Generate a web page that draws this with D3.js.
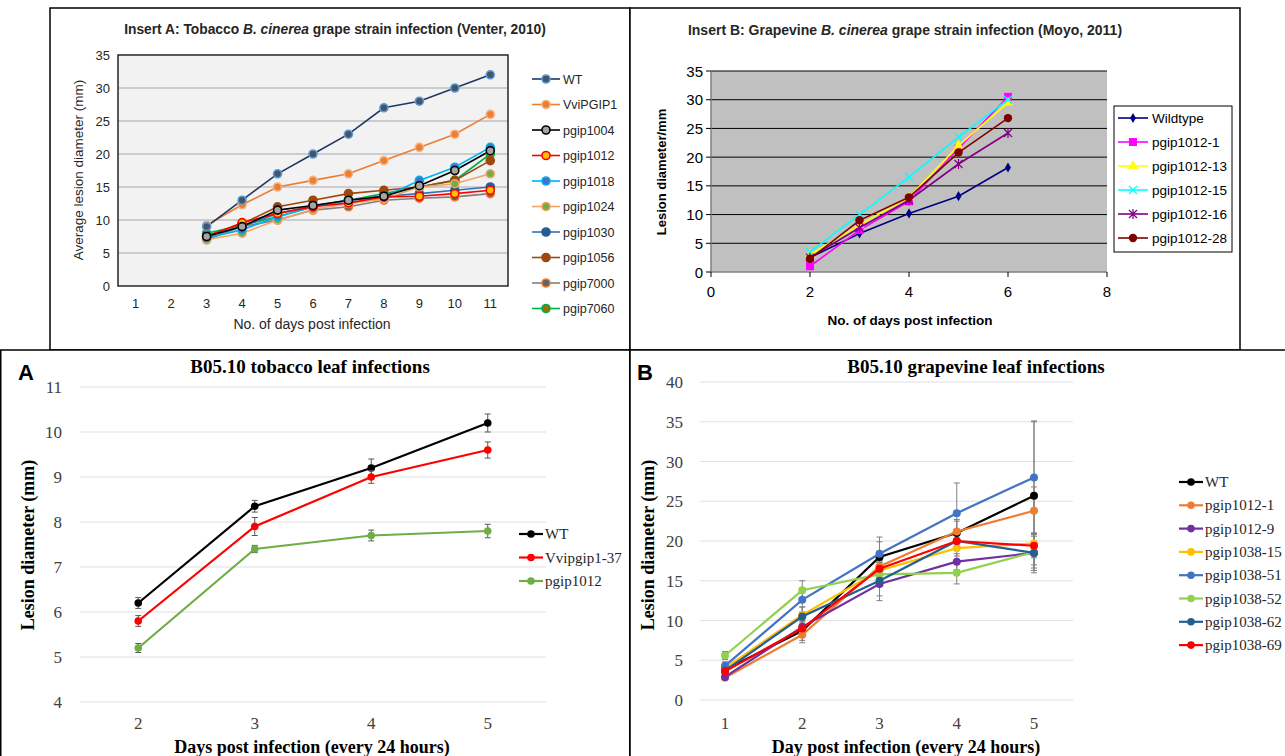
<!DOCTYPE html>
<html><head><meta charset="utf-8">
<script src="https://cdn.jsdelivr.net/npm/d3@7"></script>
<style>body{margin:0;background:#fff}svg{display:block}</style>
</head><body>
<svg id="c" width="1285" height="756"></svg>
<script>
// ---------- DATA ----------
// Insert A
const aDays = [1,2,3,4,5,6,7,8,9,10,11];
const aDataDays = [3,4,5,6,7,8,9,10,11];
const aSeriesNames = ["WT","VviPGIP1","pgip1004","pgip1012","pgip1018","pgip1024","pgip1030","pgip1056","pgip7000","pgip7060"];
const aWT       = [9, 13, 17, 20, 23, 27, 28, 30, 32];
const aVviPGIP1 = [9.2, 12.3, 15, 16, 17, 19, 21, 23, 26];
const a1004     = [7.5, 9, 11.5, 12.2, 13, 13.6, 15.2, 17.5, 20.5];
const a1012     = [7.5, 9.6, 11, 12, 12.6, 13.5, 13.6, 14, 14.5];
const a1018     = [7.3, 8.5, 10.5, 12, 13, 13.5, 16, 18, 21];
const a1024     = [7, 8, 10, 11.6, 12.5, 13.2, 15, 15.5, 17];
const a1030     = [7.5, 9, 11, 12.1, 13, 13.6, 14, 14.5, 15];
const a1056     = [7.6, 9.4, 12, 13, 14, 14.5, 15, 16, 19];
const a7000     = [7, 9, 10, 11.5, 12, 13, 13.3, 13.5, 14];
const a7060     = [8, 9.2, 10.5, 12, 13, 14, 15, 16, 20];
const aYTicks = [0,5,10,15,20,25,30,35];

// Insert B
const bDays = [2,3,4,5,6];
const bSeriesNames = ["Wildtype","pgip1012-1","pgip1012-13","pgip1012-15","pgip1012-16","pgip1012-28"];
const bWild = [2.5, 6.7, 10.2, 13.2, 18.2];
const b1    = [1.0, 7.3, 12.3, 21.5, 30.5];
const b13   = [3.0, 8.2, 13.0, 22.0, 29.5];
const b15   = [3.5, 10.0, 16.5, 23.5, 30.0];
const b16   = [2.5, 7.7, 12.5, 18.8, 24.2];
const b28   = [2.3, 9.0, 13.0, 20.8, 26.8];
const bXTicks = [0,2,4,6,8];
const bYTicks = [0,5,10,15,20,25,30,35];

// Panel A
const pADays = [2,3,4,5];
const pANames = ["WT","Vvipgip1-37","pgip1012"];
const pAWT = [6.2, 8.35, 9.2, 10.2];
const pAWTerr = [0.12, 0.13, 0.2, 0.2];
const pAVv = [5.8, 7.9, 9.0, 9.6];
const pAVverr = [0.12, 0.2, 0.14, 0.18];
const pA1012 = [5.2, 7.4, 7.7, 7.8];
const pA1012err = [0.1, 0.08, 0.12, 0.15];
const pAYTicks = [4,5,6,7,8,9,10,11];

// Panel B
const pBDays = [1,2,3,4,5];
const pBNames = ["WT","pgip1012-1","pgip1012-9","pgip1038-15","pgip1038-51","pgip1038-52","pgip1038-62","pgip1038-69"];
const pBWT = [3.8, 8.7, 18.0, 21.0, 25.7];
const pBWTerr = [0.5, 1.2, 2.5, 1.5, 9.4];
const pB1 = [2.8, 8.2, 16.8, 21.2, 23.8];
const pB1err = [0.3, 1.0, 1.2, 1.5, 3.0];
const pB9 = [2.9, 9.2, 14.6, 17.4, 18.5];
const pB9err = [0.3, 1.0, 1.5, 1.0, 1.5];
const pB15 = [4.0, 10.7, 16.3, 19.1, 19.7];
const pB15err = [0.4, 1.0, 1.0, 1.0, 1.2];
const pB51 = [4.3, 12.6, 18.4, 23.5, 28.0];
const pB51err = [0.5, 1.5, 1.5, 3.8, 7.0];
const pB52 = [5.6, 13.8, 15.8, 16.0, 18.6];
const pB52err = [0.5, 1.2, 1.5, 1.4, 2.0];
const pB62 = [3.7, 10.5, 15.0, 20.0, 18.5];
const pB62err = [0.4, 1.2, 2.5, 1.0, 2.5];
const pB69 = [3.6, 9.0, 16.5, 20.0, 19.4];
const pB69err = [0.4, 1.0, 1.0, 1.0, 1.5];
const pBYTicks = [0,5,10,15,20,25,30,35,40];

// ---------- DRAW ----------
const svg = d3.select("#c");
const SANS = "'Liberation Sans', Arial, sans-serif";
const SERIF = "'Liberation Serif', 'Times New Roman', serif";

// ===== Insert A =====
(function(){
  const g = svg.append("g");
  const series = [
    {name:aSeriesNames[0], v:aWT, line:"#1f3864", fill:"#44546a", stroke:"#5b9bd5"},
    {name:aSeriesNames[1], v:aVviPGIP1, line:"#ed7d31", fill:"#ed7d31", stroke:"#f4b183"},
    {name:aSeriesNames[2], v:a1004, line:"#000000", fill:"#a5a5a5", stroke:"#000000"},
    {name:aSeriesNames[3], v:a1012, line:"#ff0000", fill:"#ffc000", stroke:"#ff0000"},
    {name:aSeriesNames[4], v:a1018, line:"#00b0f0", fill:"#4472c4", stroke:"#00b0f0"},
    {name:aSeriesNames[5], v:a1024, line:"#f4a460", fill:"#70ad47", stroke:"#f4a460"},
    {name:aSeriesNames[6], v:a1030, line:"#2e75b6", fill:"#255e91", stroke:"#255e91"},
    {name:aSeriesNames[7], v:a1056, line:"#9e480e", fill:"#9e480e", stroke:"#9e480e"},
    {name:aSeriesNames[8], v:a7000, line:"#7f7f7f", fill:"#636363", stroke:"#ed7d31"},
    {name:aSeriesNames[9], v:a7060, line:"#00b050", fill:"#997300", stroke:"#00b050"}
  ];
  const x = d3.scaleBand().domain(aDays).range([118,508]);
  const y = d3.scaleLinear().domain([0,35]).range([286,55]);
  g.append("rect").attr("x",50).attr("y",8).attr("width",580).attr("height",342).attr("fill","#fff").attr("stroke","#000").attr("stroke-width",1.5);
  g.append("rect").attr("x",118).attr("y",55).attr("width",390).attr("height",231).attr("fill","#f2f2f2");
  g.selectAll(".gr").data(aYTicks.filter(d=>d>0&&d<35)).join("line")
    .attr("x1",118).attr("x2",508).attr("y1",d=>y(d)).attr("y2",d=>y(d)).attr("stroke","#a6a6a6").attr("stroke-width",1);
  g.append("rect").attr("x",118).attr("y",55).attr("width",390).attr("height",231).attr("fill","none").attr("stroke","#262626").attr("stroke-width",1.5);
  g.selectAll(".yt").data(aYTicks).join("text").attr("x",110).attr("y",d=>y(d)+5)
    .attr("text-anchor","end").attr("font-family",SANS).attr("font-size",13).attr("fill","#262626").text(d=>d);
  g.selectAll(".xt").data(aDays).join("text").attr("x",d=>x(d)+x.bandwidth()/2).attr("y",308)
    .attr("text-anchor","middle").attr("font-family",SANS).attr("font-size",13).attr("fill","#262626").text(d=>d);
  g.append("text").attr("x",312).attr("y",329).attr("text-anchor","middle").attr("font-family",SANS).attr("font-size",14).attr("fill","#262626").text("No. of days post infection");
  g.append("text").attr("transform","translate(83,170) rotate(-90)").attr("text-anchor","middle").attr("font-family",SANS).attr("font-size",13.5).attr("fill","#262626").text("Average lesion diameter (mm)");
  const t = g.append("text").attr("x",335).attr("y",34).attr("text-anchor","middle").attr("font-family",SANS).attr("font-size",13.8).attr("font-weight","bold").attr("fill","#262626");
  t.append("tspan").text("Insert A:  Tobacco ");
  t.append("tspan").attr("font-style","italic").text("B. cinerea");
  t.append("tspan").text(" grape strain infection (Venter, 2010)");
  const line = d3.line().x((d,i)=>x(aDataDays[i])+x.bandwidth()/2).y(d=>y(d));
  const order = [9,8,7,6,5,4,3,2,1,0];
  order.forEach(k=>{
    const s = series[k];
    g.append("path").attr("d",line(s.v)).attr("fill","none").attr("stroke",s.line).attr("stroke-width",1.6);
  });
  order.forEach(k=>{
    const s = series[k];
    g.selectAll(null).data(s.v).join("circle").attr("cx",(d,i)=>x(aDataDays[i])+x.bandwidth()/2).attr("cy",d=>y(d))
      .attr("r",4).attr("fill",s.fill).attr("stroke",s.stroke).attr("stroke-width",1.6);
  });
  const lg = g.append("g");
  series.forEach((s,i)=>{
    const yy = 79 + i*25.5;
    lg.append("line").attr("x1",532).attr("x2",560).attr("y1",yy).attr("y2",yy).attr("stroke",s.line).attr("stroke-width",1.6);
    lg.append("circle").attr("cx",546).attr("cy",yy).attr("r",4).attr("fill",s.fill).attr("stroke",s.stroke).attr("stroke-width",1.6);
    lg.append("text").attr("x",563).attr("y",yy+4.5).attr("font-family",SANS).attr("font-size",12.5).attr("fill","#262626").text(s.name);
  });
})();

// ===== Insert B =====
(function(){
  const g = svg.append("g");
  const x = d3.scaleLinear().domain([0,8]).range([711,1107]);
  const y = d3.scaleLinear().domain([0,35]).range([272,71]);
  g.append("rect").attr("x",630).attr("y",8).attr("width",610).attr("height",342).attr("fill","#fff").attr("stroke","#000").attr("stroke-width",1.5);
  g.append("rect").attr("x",711).attr("y",71).attr("width",396).attr("height",201).attr("fill","#c0c0c0");
  g.selectAll(".gr").data(bYTicks.filter(d=>d>0)).join("line")
    .attr("x1",711).attr("x2",1107).attr("y1",d=>y(d)).attr("y2",d=>y(d)).attr("stroke","#000").attr("stroke-width",1);
  g.append("line").attr("x1",711).attr("x2",711).attr("y1",71).attr("y2",272).attr("stroke","#808080").attr("stroke-width",1.5);
  g.append("line").attr("x1",711).attr("x2",1107).attr("y1",272).attr("y2",272).attr("stroke","#808080").attr("stroke-width",1.5);
  g.selectAll(".ytk").data(bYTicks).join("line").attr("x1",706).attr("x2",711).attr("y1",d=>y(d)).attr("y2",d=>y(d)).attr("stroke","#000");
  g.selectAll(".xtk").data(bXTicks).join("line").attr("x1",d=>x(d)).attr("x2",d=>x(d)).attr("y1",272).attr("y2",277).attr("stroke","#000");
  g.selectAll(".yt").data(bYTicks).join("text").attr("x",703).attr("y",d=>y(d)+5.5)
    .attr("text-anchor","end").attr("font-family",SANS).attr("font-size",15).attr("fill","#000").text(d=>d);
  g.selectAll(".xt").data(bXTicks).join("text").attr("x",d=>x(d)).attr("y",297)
    .attr("text-anchor","middle").attr("font-family",SANS).attr("font-size",15).attr("fill","#000").text(d=>d);
  g.append("text").attr("x",910).attr("y",325).attr("text-anchor","middle").attr("font-family",SANS).attr("font-size",13.5).attr("font-weight","bold").text("No. of days post infection");
  g.append("text").attr("transform","translate(666,172) rotate(-90)").attr("text-anchor","middle").attr("font-family",SANS).attr("font-size",13).attr("font-weight","bold").text("Lesion diameter/mm");
  const t = g.append("text").attr("x",905).attr("y",35).attr("text-anchor","middle").attr("font-family",SANS).attr("font-size",14).attr("font-weight","bold").attr("fill","#262626");
  t.append("tspan").text("Insert B: Grapevine ");
  t.append("tspan").attr("font-style","italic").text("B. cinerea");
  t.append("tspan").text(" grape strain infection (Moyo, 2011)");
  const series = [
    {name:bSeriesNames[0], v:bWild, c:"#000080", m:"diamond"},
    {name:bSeriesNames[1], v:b1, c:"#ff00ff", m:"square"},
    {name:bSeriesNames[2], v:b13, c:"#ffff00", m:"triangle"},
    {name:bSeriesNames[3], v:b15, c:"#00ffff", m:"x"},
    {name:bSeriesNames[4], v:b16, c:"#800080", m:"star"},
    {name:bSeriesNames[5], v:b28, c:"#800000", m:"circle"}
  ];
  function marker(sel, m, c){
    if(m==="diamond") sel.append("path").attr("d",d3.symbol(d3.symbolDiamond,30)()).attr("fill",c);
    else if(m==="square") sel.append("rect").attr("x",-4).attr("y",-4).attr("width",8).attr("height",8).attr("fill",c);
    else if(m==="triangle") sel.append("path").attr("d",d3.symbol(d3.symbolTriangle,45)()).attr("fill",c);
    else if(m==="x") sel.append("path").attr("d","M-4,-4L4,4M-4,4L4,-4").attr("stroke",c).attr("stroke-width",1.2);
    else if(m==="star") sel.append("path").attr("d","M-4,-4L4,4M-4,4L4,-4M0,-5L0,5").attr("stroke",c).attr("stroke-width",1.2);
    else sel.append("circle").attr("r",4.2).attr("fill",c);
  }
  const line = d3.line().x((d,i)=>x(bDays[i])).y(d=>y(d));
  series.forEach(s=>{
    g.append("path").attr("d",line(s.v)).attr("fill","none").attr("stroke",s.c).attr("stroke-width",1.6);
    s.v.forEach((d,i)=>{ marker(g.append("g").attr("transform",`translate(${x(bDays[i])},${y(d)})`), s.m, s.c); });
  });
  g.append("rect").attr("x",1114).attr("y",106).attr("width",118).attr("height",146).attr("fill","#fff").attr("stroke","#000").attr("stroke-width",1);
  series.forEach((s,i)=>{
    const yy = 118 + i*24;
    g.append("line").attr("x1",1118).attr("x2",1148).attr("y1",yy).attr("y2",yy).attr("stroke",s.c).attr("stroke-width",1.6);
    marker(g.append("g").attr("transform",`translate(1133,${yy})`), s.m, s.c);
    g.append("text").attr("x",1152).attr("y",yy+5).attr("font-family",SANS).attr("font-size",13.5).text(s.name);
  });
})();

// ===== Panel A =====
(function(){
  const g = svg.append("g");
  const x = d3.scaleBand().domain(pADays).range([80,546]);
  const y = d3.scaleLinear().domain([4,11]).range([702,387]);
  g.append("rect").attr("x",0.75).attr("y",350).attr("width",629).attr("height",410).attr("fill","#fff").attr("stroke","#000").attr("stroke-width",1.5);
  g.selectAll(".gr").data(pAYTicks).join("line").attr("x1",80).attr("x2",546).attr("y1",d=>y(d)).attr("y2",d=>y(d)).attr("stroke","#e0e0e0").attr("stroke-width",1.2);
  g.selectAll(".yt").data(pAYTicks).join("text").attr("x",62).attr("y",d=>y(d)+6)
    .attr("text-anchor","end").attr("font-family",SERIF).attr("font-size",17).attr("fill","#404040").text(d=>d);
  g.selectAll(".xt").data(pADays).join("text").attr("x",d=>x(d)+x.bandwidth()/2).attr("y",729)
    .attr("text-anchor","middle").attr("font-family",SERIF).attr("font-size",17).attr("fill","#404040").text(d=>d);
  g.append("text").attr("x",312).attr("y",753).attr("text-anchor","middle").attr("font-family",SERIF).attr("font-size",18).attr("font-weight","bold").text("Days post infection (every 24 hours)");
  g.append("text").attr("transform","translate(34,545) rotate(-90)").attr("text-anchor","middle").attr("font-family",SERIF).attr("font-size",18).attr("font-weight","bold").text("Lesion diameter (mm)");
  g.append("text").attr("x",310).attr("y",373).attr("text-anchor","middle").attr("font-family",SERIF).attr("font-size",19).attr("font-weight","bold").text("B05.10 tobacco leaf infections");
  g.append("text").attr("x",18).attr("y",380).attr("font-family",SANS).attr("font-size",22).attr("font-weight","bold").text("A");
  const series = [
    {name:pANames[0], v:pAWT, e:pAWTerr, c:"#000000"},
    {name:pANames[1], v:pAVv, e:pAVverr, c:"#ff0000"},
    {name:pANames[2], v:pA1012, e:pA1012err, c:"#70ad47"}
  ];
  const cx = i=>x(pADays[i])+x.bandwidth()/2;
  const line = d3.line().x((d,i)=>cx(i)).y(d=>y(d));
  series.forEach(s=>{
    g.append("path").attr("d",line(s.v)).attr("fill","none").attr("stroke",s.c).attr("stroke-width",2.2);
    s.v.forEach((d,i)=>{
      const e = s.e[i];
      g.append("path").attr("d",`M${cx(i)},${y(d-e)}V${y(d+e)}M${cx(i)-3},${y(d-e)}H${cx(i)+3}M${cx(i)-3},${y(d+e)}H${cx(i)+3}`).attr("stroke","#595959").attr("stroke-width",1).attr("fill","none");
      g.append("circle").attr("cx",cx(i)).attr("cy",y(d)).attr("r",3.8).attr("fill",s.c);
    });
  });
  series.forEach((s,i)=>{
    const yy = 534 + i*23.5;
    g.append("line").attr("x1",519).attr("x2",543).attr("y1",yy).attr("y2",yy).attr("stroke",s.c).attr("stroke-width",2.2);
    g.append("circle").attr("cx",531).attr("cy",yy).attr("r",3.8).attr("fill",s.c);
    g.append("text").attr("x",545).attr("y",yy+5).attr("font-family",SERIF).attr("font-size",15).attr("fill","#262626").text(s.name);
  });
})();

// ===== Panel B =====
(function(){
  const g = svg.append("g");
  const x = d3.scalePoint().domain(pBDays).range([725,1034]);
  const y = d3.scaleLinear().domain([0,40]).range([700,382]);
  g.append("rect").attr("x",630).attr("y",350).attr("width",660).attr("height",410).attr("fill","#fff").attr("stroke","#000").attr("stroke-width",1.5);
  g.selectAll(".gr").data(pBYTicks).join("line").attr("x1",700).attr("x2",1073).attr("y1",d=>y(d)).attr("y2",d=>y(d)).attr("stroke","#e0e0e0").attr("stroke-width",1.2);
  g.selectAll(".yt").data(pBYTicks).join("text").attr("x",683).attr("y",d=>y(d)+6)
    .attr("text-anchor","end").attr("font-family",SERIF).attr("font-size",17).attr("fill","#404040").text(d=>d);
  g.selectAll(".xt").data(pBDays).join("text").attr("x",d=>x(d)).attr("y",729)
    .attr("text-anchor","middle").attr("font-family",SERIF).attr("font-size",17).attr("fill","#404040").text(d=>d);
  g.append("text").attr("x",906).attr("y",753).attr("text-anchor","middle").attr("font-family",SERIF).attr("font-size",18).attr("font-weight","bold").text("Day post infection (every 24 hours)");
  g.append("text").attr("transform","translate(654,545) rotate(-90)").attr("text-anchor","middle").attr("font-family",SERIF).attr("font-size",18).attr("font-weight","bold").text("Lesion diameter (mm)");
  g.append("text").attr("x",976).attr("y",373).attr("text-anchor","middle").attr("font-family",SERIF).attr("font-size",19).attr("font-weight","bold").text("B05.10 grapevine leaf infections");
  g.append("text").attr("x",637).attr("y",380).attr("font-family",SANS).attr("font-size",22).attr("font-weight","bold").text("B");
  const series = [
    {name:pBNames[0], v:pBWT, e:pBWTerr, c:"#000000"},
    {name:pBNames[1], v:pB1, e:pB1err, c:"#ed7d31"},
    {name:pBNames[2], v:pB9, e:pB9err, c:"#7030a0"},
    {name:pBNames[3], v:pB15, e:pB15err, c:"#ffc000"},
    {name:pBNames[4], v:pB51, e:pB51err, c:"#4472c4"},
    {name:pBNames[5], v:pB52, e:pB52err, c:"#92d050"},
    {name:pBNames[6], v:pB62, e:pB62err, c:"#255e91"},
    {name:pBNames[7], v:pB69, e:pB69err, c:"#ff0000"}
  ];
  const cx = i=>x(pBDays[i]);
  series.forEach(s=>{
    s.v.forEach((d,i)=>{
      const e = s.e[i];
      g.append("path").attr("d",`M${cx(i)},${y(d-e)}V${y(d+e)}M${cx(i)-3},${y(d-e)}H${cx(i)+3}M${cx(i)-3},${y(d+e)}H${cx(i)+3}`).attr("stroke","#7f7f7f").attr("stroke-width",1).attr("fill","none");
    });
  });
  const line = d3.line().x((d,i)=>cx(i)).y(d=>y(d));
  series.forEach(s=>{
    g.append("path").attr("d",line(s.v)).attr("fill","none").attr("stroke",s.c).attr("stroke-width",2.2);
    s.v.forEach((d,i)=>{
      g.append("circle").attr("cx",cx(i)).attr("cy",y(d)).attr("r",4).attr("fill",s.c);
    });
  });
  series.forEach((s,i)=>{
    const yy = 482 + i*23.3;
    g.append("line").attr("x1",1179).attr("x2",1203).attr("y1",yy).attr("y2",yy).attr("stroke",s.c).attr("stroke-width",2.2);
    g.append("circle").attr("cx",1191).attr("cy",yy).attr("r",3.8).attr("fill",s.c);
    g.append("text").attr("x",1205).attr("y",yy+5).attr("font-family",SERIF).attr("font-size",15).attr("fill","#262626").text(s.name);
  });
})();
</script>
</body></html>
